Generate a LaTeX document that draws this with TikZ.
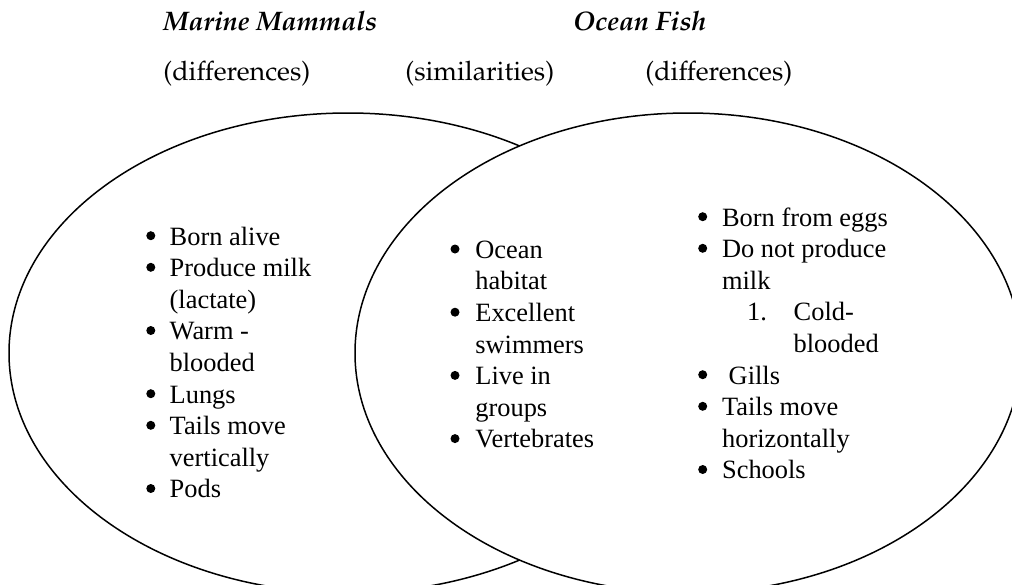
\documentclass[tikz,border=0pt]{standalone}
\usepackage[T1]{fontenc}
\usepackage{fontspec}
\setmainfont{Liberation Serif}
\newcommand{\palfont}{\fontencoding{T1}\fontfamily{ppl}\selectfont}
\begin{document}
\begin{tikzpicture}[x=0.5pt,y=-0.5pt,
  venn/.style={draw=black,line width=0.75pt},
  head/.style={anchor=base west,inner sep=0pt,font=\palfont\fontsize{13.4}{16}\selectfont},
  title/.style={anchor=base west,inner sep=0pt,font=\palfont\fontsize{13.4}{16}\selectfont\bfseries\itshape},
  lst/.style={anchor=base west,inner sep=0pt,font=\fontsize{13.2}{15.8}\selectfont},
  dot/.style={fill=black}]
\useasboundingbox (0,0) rectangle (1012,584);
\begin{scope}
  \clip (0,0) rectangle (1012,584);
  \draw[venn] (348,353) ellipse [x radius=169.5pt, y radius=120pt];
  \draw[venn,fill=white] (688,353) ellipse [x radius=166.5pt, y radius=120pt];
\end{scope}
% headings
\node[title] (mm) at (163,30.7) {Marine Mammals};
\node[title] (of) at (572.7,30.7) {Ocean Fish};
\node[head] (d1) at (163,80) {(differences)};
\node[head] (sim) at (405,80) {(similarities)};
\node[head] (d2) at (645,80) {(differences)};
% left list
\node[lst] (left) at (169.3,245) {\begin{tabular}[t]{@{}l@{}}
Born alive\\
Produce milk\\
(lactate)\\
Warm -\\
blooded\\
Lungs\\
Tails move\\
vertically\\
Pods
\end{tabular}};
\foreach \k in {0,1,3,5,6,8} \fill[dot] (150.8,{235.7+31.6*\k}) circle (2.25pt);
% middle list
\node[lst] (mid) at (475,258.3) {\begin{tabular}[t]{@{}l@{}}
Ocean\\
habitat\\
Excellent\\
swimmers\\
Live in\\
groups\\
Vertebrates
\end{tabular}};
\foreach \k in {0,2,4,6} \fill[dot] (455,{249+31.6*\k}) circle (2.25pt);
% right list
\node[lst] (right) at (721.7,226) {\begin{tabular}[t]{@{}l@{}}
Born from eggs\\
Do not produce\\
milk\\
\hspace{12.5pt}\makebox[23.3pt][l]{1.}Cold-\\
\hspace{35.8pt}blooded\\
\hspace{3.3pt}Gills\\
Tails move\\
horizontally\\
Schools
\end{tabular}};
\foreach \k in {0,1,5,6,8} \fill[dot] (702.7,{216.7+31.6*\k}) circle (2.25pt);
\end{tikzpicture}
\end{document}
